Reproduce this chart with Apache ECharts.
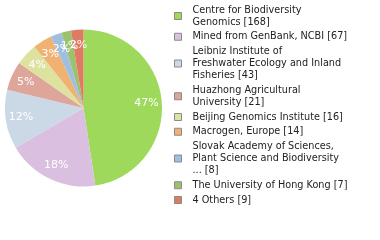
<!DOCTYPE html>
<html>
<head>
<meta charset="utf-8">
<script src="https://cdn.jsdelivr.net/npm/echarts@6/dist/echarts.min.js"></script>
<style>
  html, body { margin: 0; padding: 0; background: #fff; }
  #chart { width: 380px; height: 240px; }
</style>
</head>
<body>
<div id="chart"></div>
<script>
// 图例名称（含换行）与数值
const categories = [
  'Centre for Biodiversity\nGenomics',
  'Mined from GenBank, NCBI',
  'Leibniz Institute of\nFreshwater Ecology and Inland\nFisheries',
  'Huazhong Agricultural\nUniversity',
  'Beijing Genomics Institute',
  'Macrogen, Europe',
  'Slovak Academy of Sciences,\nPlant Science and Biodiversity\n...',
  'The University of Hong Kong',
  '4 Others'
];
const counts = [168, 67, 43, 21, 16, 14, 8, 7, 9];
const sliceColors = [
  '#9fd95c', '#dbbfe0', '#cbd8e5', '#dea59a', '#dde29f',
  '#f0b272', '#9fbfe2', '#9cc26e', '#e07b63'
];

const FONT = 'DejaVu Sans';
const center = [83.5, 108];
const R = 78.5;

const pieData = categories.map((name, i) => ({
  name,
  value: counts[i],
  itemStyle: { color: sliceColors[i] }
}));

const chart = echarts.init(document.getElementById('chart'), null, { renderer: 'canvas' });

chart.setOption({
  animation: false,
  legend: {
    orient: 'vertical',
    left: 174,
    top: 4,
    padding: 0,
    itemWidth: 7,
    itemHeight: 7,
    itemGap: 2.75,
    icon: 'rect',
    selectedMode: false,
    itemStyle: { borderColor: '#8a8a8a', borderWidth: 1 },
    textStyle: {
      fontFamily: FONT,
      fontSize: 9.7,
      lineHeight: 12,
      color: '#222',
      align: 'left',
      padding: [0, 0, 0, 6]
    },
    formatter: (name) => {
      const i = categories.indexOf(name);
      return name + ' [' + counts[i] + ']';
    },
    data: categories
  },
  series: [
    {
      type: 'pie',
      center,
      radius: [0, R],
      startAngle: 90,
      clockwise: true,
      silent: true,
      label: { show: false },
      labelLine: { show: false },
      data: pieData
    },
    {
      // 仅用于放置百分比标签（透明扇区）
      type: 'pie',
      center,
      radius: [42, R],
      startAngle: 90,
      clockwise: true,
      silent: true,
      avoidLabelOverlap: false,
      legendHoverLink: false,
      itemStyle: { color: 'rgba(0,0,0,0)' },
      label: {
        show: true,
        position: 'inside',
        color: '#fff',
        fontFamily: FONT,
        fontSize: 11,
        overflow: 'none',
        formatter: (p) => Math.floor(p.percent) + '%'
      },
      labelLayout: { hideOverlap: false },
      labelLine: { show: false },
      data: categories.map((name, i) => ({ name: name + ' ', value: counts[i] }))
    }
  ]
});
</script>
</body>
</html>
